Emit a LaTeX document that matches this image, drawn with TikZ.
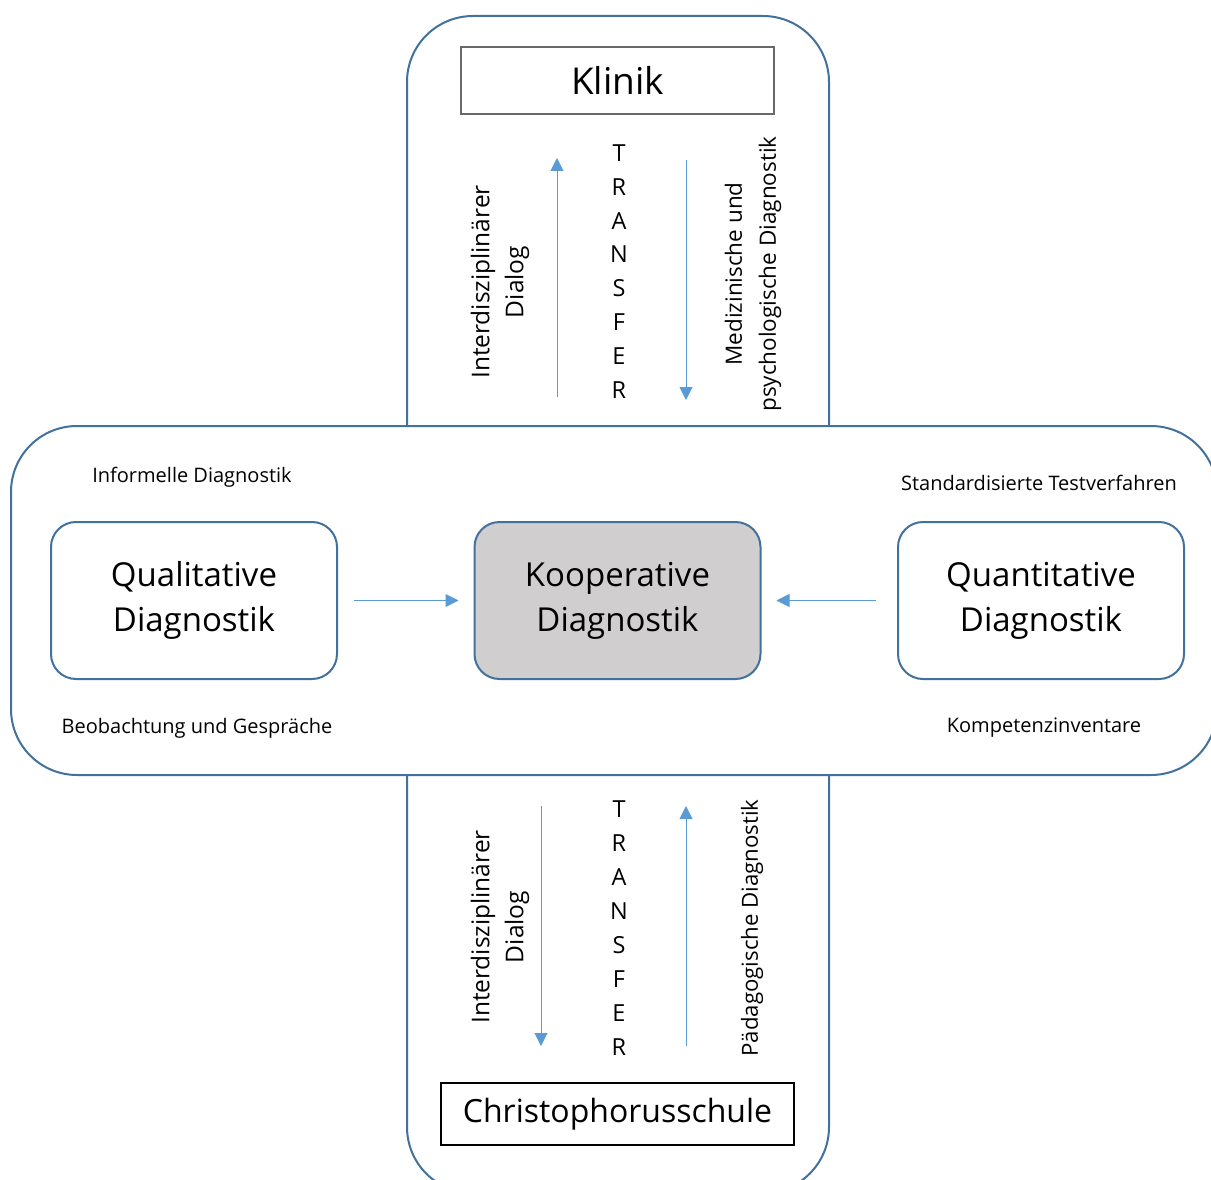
\documentclass[tikz,border=0pt]{standalone}
\usepackage{fontspec}
\setmainfont{Open Sans}
\usepackage{tikz}
\usetikzlibrary{arrows.meta,positioning}
\usepackage{xcolor}
\definecolor{kdblue}{RGB}{65,113,156}
\definecolor{kdarrow}{RGB}{91,155,213}
\definecolor{kdgrey}{RGB}{208,206,206}
\definecolor{kdframe}{RGB}{105,105,105}
\tikzstyle{diagbox} = [draw=kdblue, line width=2pt, rounded corners=25pt, minimum width=286pt, minimum height=157pt, align=center, font=\fontsize{33}{45}\selectfont]
\tikzstyle{placebox} = [draw, line width=2pt]
\tikzstyle{arrow} = [-{Triangle[length=13pt,width=13pt]}, line width=1pt, color=kdarrow]
\tikzstyle{sidetext} = [rotate=90, align=center, inner sep=0pt, font=\fontsize{23}{34}\selectfont]
\tikzstyle{transfer} = [align=center, inner sep=0pt, font=\fontsize{23.5}{33.9}\selectfont]
\tikzstyle{notetext} = [font=\fontsize{20}{24}\selectfont]

\begin{document}
\begin{tikzpicture}[x=1pt,y=-1pt]
\useasboundingbox (0,0) rectangle (1211,1180);
\clip (0,0) rectangle (1211,1180);

% Cross outline
\draw[kdblue, line width=2pt, rounded corners=66pt] (407,16) rectangle (829,1193);
\draw[kdblue, line width=2pt, rounded corners=66pt, fill=white] (11,426) rectangle (1217,775);

% Klinik side
\node[placebox, draw=kdframe, minimum width=313pt, minimum height=67pt, font=\fontsize{37}{40}\selectfont] (klinik) at (617.5,80.5) {Klinik};
\node[sidetext, font=\fontsize{24.5}{34}\selectfont] (dialogtop) at (500,282) {Interdisziplinärer\\Dialog};
\node[transfer] (transfertop) at (619,271.5) {T\\R\\A\\N\\S\\F\\E\\R};
\node[sidetext, font=\fontsize{22.5}{34}\selectfont] (medtop) at (753,274) {Medizinische und\\psychologische Diagnostik};
\coordinate (uplow) at (557,397);
\coordinate (uphigh) at (557,158);
\coordinate (downhigh) at (686,160);
\coordinate (downlow) at (686,400);
\draw[arrow] (uplow) -- (uphigh);
\draw[arrow] (downhigh) -- (downlow);

% Middle row
\node[diagbox] (qual) at (194,600.5) {Qualitative\\Diagnostik};
\node[diagbox, fill=kdgrey] (koop) at (617.5,600.5) {Kooperative\\Diagnostik};
\node[diagbox] (quant) at (1041,600.5) {Quantitative\\Diagnostik};
\draw[arrow, shorten <=16pt, shorten >=15pt] (qual) -- (koop);
\draw[arrow, shorten <=21pt, shorten >=15pt] (quant) -- (koop);

% Labels
\node[notetext] (informell) at (192,477) {Informelle Diagnostik};
\node[notetext] (standard) at (1039,483) {Standardisierte Testverfahren};
\node[notetext] (beobacht) at (197,728) {Beobachtung und Gespräche};
\node[notetext] (kompetenz) at (1044,728) {Kompetenzinventare};

% Schule side
\node[sidetext, font=\fontsize{24.5}{34}\selectfont] (dialogbot) at (500,927) {Interdisziplinärer\\Dialog};
\node[transfer] (transferbot) at (619,928) {T\\R\\A\\N\\S\\F\\E\\R};
\node[sidetext, font=\fontsize{22.2}{34}\selectfont] (paedbot) at (752,928) {Pädagogische Diagnostik};
\coordinate (dnhigh) at (541,806);
\coordinate (dnlow) at (541,1046);
\coordinate (pglow) at (686,1046);
\coordinate (pghigh) at (686,806);
\draw[arrow] (dnhigh) -- (dnlow);
\draw[arrow] (pglow) -- (pghigh);
\node[placebox, minimum width=353pt, minimum height=62pt, font=\fontsize{32}{36}\selectfont] (schule) at (617.5,1114) {Christophorusschule};
\end{tikzpicture}
\end{document}
